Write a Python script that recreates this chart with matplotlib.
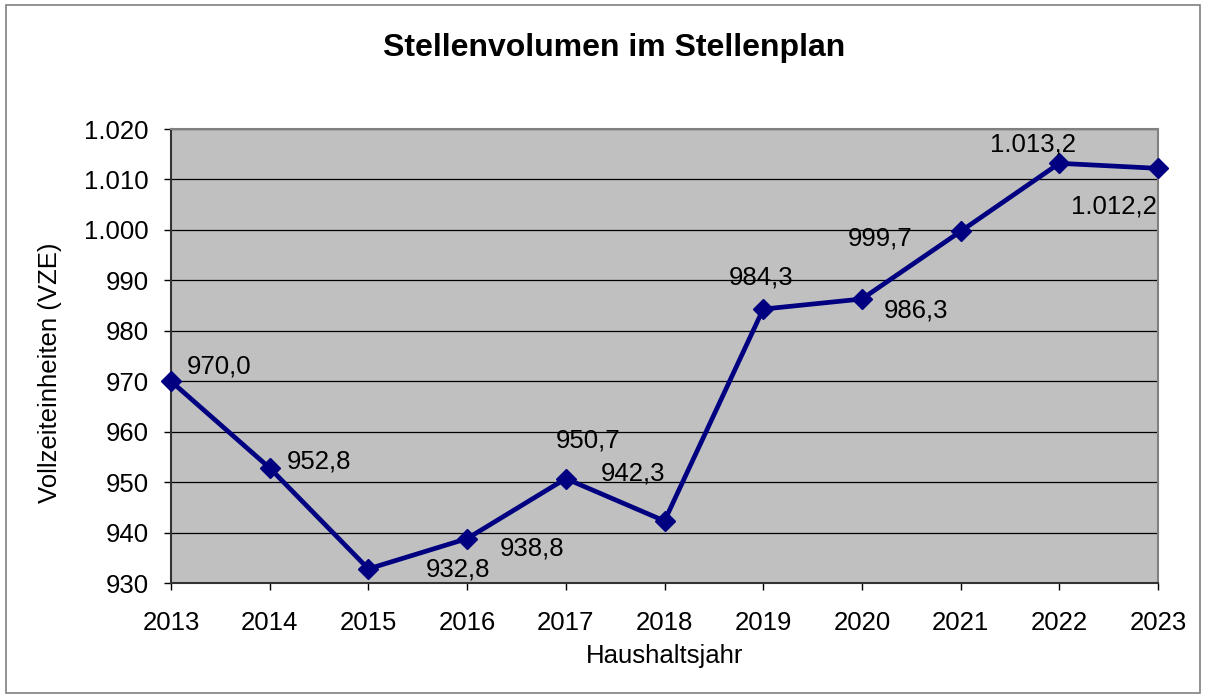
import matplotlib
matplotlib.use("Agg")
import matplotlib.pyplot as plt
from matplotlib.patches import Rectangle
from matplotlib.ticker import FuncFormatter

years = [2013, 2014, 2015, 2016, 2017, 2018, 2019, 2020, 2021, 2022, 2023]
vze = [970.0, 952.8, 932.8, 938.8, 950.7, 942.3, 984.3, 986.3, 999.7, 1013.2, 1012.2]
# label offsets in pixels (dx, dy) from each point
label_offsets = [(48, 15), (49, 6), (90, -1), (65, -10), (22, 38), (-32, 47),
                 (-2, 32), (54, -12), (-81, -7), (-26, 19), (-44, -38)]


def de_fmt(v, decimals):
    s = f"{v:,.{decimals}f}"
    return s.replace(",", "X").replace(".", ",").replace("X", ".")


plt.rcParams['font.family'] = ['Liberation Sans', 'DejaVu Sans']

fig = plt.figure(figsize=(12.08, 6.98), dpi=100)
fig.patches.append(Rectangle((6 / 1208, 5 / 698), 1194 / 1208, 688 / 698,
                             transform=fig.transFigure, fill=False,
                             edgecolor='#808080', linewidth=1.2))

ax = fig.add_axes([171 / 1208, 1 - 583 / 698, (1158 - 171) / 1208, (583 - 129) / 698])
ax.set_facecolor('#C0C0C0')

ax.plot(years, vze, color='#000080', linewidth=3.4, marker='D', markersize=10,
        zorder=3, clip_on=False)

for x, y, (dx, dy) in zip(years, vze, label_offsets):
    ax.annotate(de_fmt(y, 1), (x, y), xytext=(dx, dy), textcoords='offset pixels',
                ha='center', va='center', fontsize=18.5, color='black')

ax.set_xlim(2013, 2023)
ax.set_ylim(930, 1020)
ax.set_xticks(years)
ax.set_yticks(range(930, 1021, 10))
ax.yaxis.set_major_formatter(FuncFormatter(lambda v, p: de_fmt(v, 0)))
ax.grid(axis='y', color='black', linewidth=0.9)
ax.set_axisbelow(True)

ax.tick_params(axis='both', direction='out', length=5, width=1, labelsize=18.5,
               color='black')
ax.tick_params(axis='x', pad=15)
ax.tick_params(axis='y', pad=11)

for side in ['left', 'bottom']:
    ax.spines[side].set_color('#333333')
    ax.spines[side].set_linewidth(1.5)
for side in ['top', 'right']:
    ax.spines[side].set_color('#808080')
    ax.spines[side].set_linewidth(1.5)

ax.set_xlabel("Haushaltsjahr", fontsize=18.5, va='center')
ax.xaxis.set_label_coords(0.5, (583 - 656) / 454)
ax.set_ylabel("Vollzeiteinheiten (VZE)", fontsize=18.5, va='center')
ax.yaxis.set_label_coords((50 - 171) / 987, (583 - 373) / 454)
fig.text(614 / 1208, 1 - 48 / 698, "Stellenvolumen im Stellenplan", ha='center',
         va='center', fontsize=23, fontweight='bold')

fig.savefig("out.png", dpi=100)
